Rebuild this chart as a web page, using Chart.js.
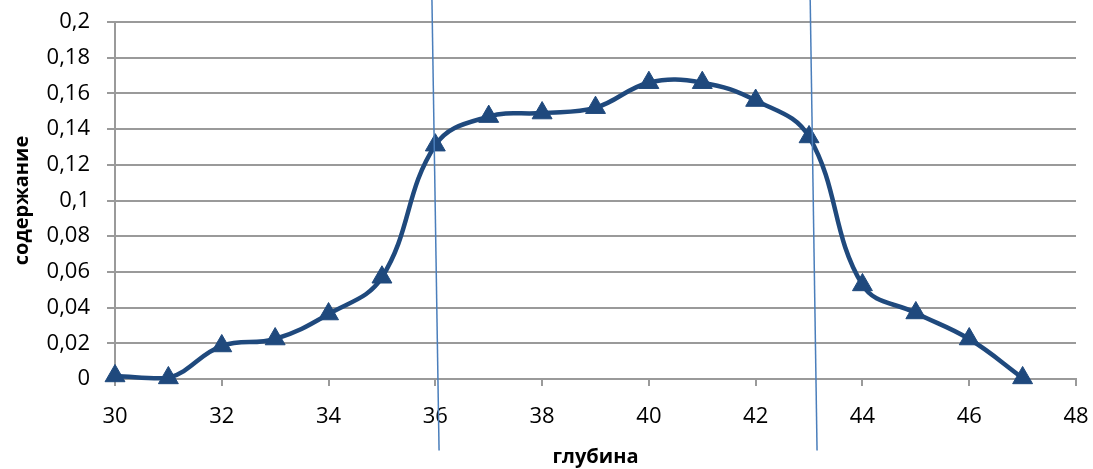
<!DOCTYPE html>
<html>
<head>
<meta charset="utf-8">
<style>
  html, body { margin: 0; padding: 0; background: #ffffff; }
  #wrap { width: 1093px; height: 469px; position: relative; }
</style>
<script src="https://cdn.jsdelivr.net/npm/chart.js@4/dist/chart.umd.min.js"></script>
</head>
<body>
<div id="wrap"><canvas id="c" width="1093" height="469"></canvas></div>
<script>
// Depth profile
const depth   = [30, 31, 32, 33, 34, 35, 36, 37, 38, 39, 40, 41, 42, 43, 44, 45, 46, 47];
const content = [0.0017, 0.0006, 0.0185, 0.0224, 0.0364, 0.057, 0.131, 0.147, 0.149, 0.152,
                 0.166, 0.166, 0.156, 0.1356, 0.0527, 0.037, 0.0224, 0.0006];

// Zone boundary lines (slightly slanted), given as [x at top, x at bottom]
const boundaryTopY    = 0.215;
const boundaryBottomY = -0.04;
const boundaryLeft    = [35.935, 36.07];
const boundaryRight   = [43.02, 43.15];

// Axis tick labels
const xTickLabels = ['30', '32', '34', '36', '38', '40', '42', '44', '46', '48'];
const yTickLabels = ['0', '0,02', '0,04', '0,06', '0,08', '0,1', '0,12', '0,14', '0,16', '0,18', '0,2'];

const FONT = "'Open Sans', 'Noto Sans', sans-serif";
const series = depth.map((d, i) => ({ x: d, y: content[i] }));
const boundary = b => [{ x: b[0], y: boundaryTopY }, { x: b[1], y: boundaryBottomY }];

const lineStyle = {
  type: 'line', showLine: true, pointRadius: 0, borderColor: '#4a7ebb',
  borderWidth: 1.5, tension: 0, clip: false, order: 0
};

new Chart(document.getElementById('c'), {
  type: 'line',
  data: {
    datasets: [
      Object.assign({ data: boundary(boundaryLeft) }, lineStyle),
      Object.assign({ data: boundary(boundaryRight) }, lineStyle),
      {
        data: series,
        borderColor: '#1f497d',
        backgroundColor: '#1f497d',
        borderWidth: 4.5,
        tension: 0.4,
        pointStyle: 'triangle',
        pointRadius: 11.5,
        pointHoverRadius: 11.5,
        pointBorderWidth: 1,
        pointBackgroundColor: '#1f497d',
        pointBorderColor: '#1f497d',
        clip: false,
        order: 1
      }
    ]
  },
  options: {
    responsive: false,
    animation: false,
    layout: { autoPadding: false, padding: { top: 22, right: 17, left: 0, bottom: 0 } },
    plugins: { legend: { display: false }, tooltip: { enabled: false } },
    scales: {
      x: {
        type: 'linear', min: 30, max: 48,
        afterFit: s => { s.height = 90; s.paddingLeft = 0; s.paddingRight = 0; },
        ticks: {
          stepSize: 2, padding: 18, color: '#000',
          font: { family: FONT, size: 22 },
          callback: (v) => { const i = (v - 30) / 2; return Number.isInteger(i) ? xTickLabels[i] : ''; }
        },
        grid: { display: true, drawOnChartArea: false, drawTicks: true, tickLength: 7, color: '#9a9a9a', lineWidth: 2 },
        border: { display: true, color: '#9a9a9a', width: 2 },
        title: { display: true, text: 'глубина', color: '#000', font: { family: FONT, size: 20, weight: 'bold' }, padding: { top: 0, bottom: 0 } }
      },
      y: {
        min: 0, max: 0.2,
        afterFit: s => { s.width = 115; s.paddingTop = 0; s.paddingBottom = 0; },
        ticks: {
          stepSize: 0.02, padding: 17, color: '#000',
          font: { family: FONT, size: 22 },
          callback: (v) => { const i = Math.round(v / 0.02); return yTickLabels[i]; }
        },
        grid: { color: '#9a9a9a', lineWidth: 2, tickLength: 8 },
        border: { display: true, color: '#9a9a9a', width: 2 },
        title: { display: true, text: 'содержание', color: '#000', font: { family: FONT, size: 20, weight: 'bold' }, padding: { top: 10, bottom: 0 } }
      }
    }
  }
});
</script>
</body>
</html>
